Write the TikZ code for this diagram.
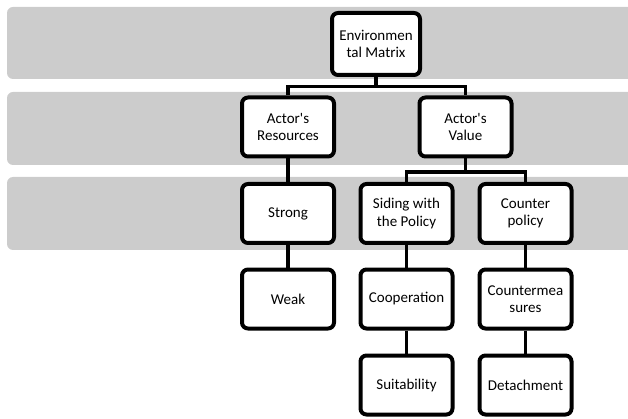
\documentclass[tikz,border=0pt]{standalone}
\usepackage{fontspec}
\setmainfont{Carlito}
\definecolor{bandgray}{RGB}{204,204,204}
\tikzset{
  band/.style={fill=bandgray, draw=none, rounded corners=6pt},
  box/.style={draw=black, fill=white, line width=4pt, rounded corners=6pt,
    minimum width=92pt, minimum height=59pt, align=center, inner sep=2pt,
    font=\fontsize{15}{17.5}\selectfont},
  conn/.style={draw=black, line width=3.4pt}
}
\begin{document}
\begin{tikzpicture}[x=1pt,y=-1pt]
\useasboundingbox (0,0) rectangle (628,419);
\begin{scope}
\clip (0,0) rectangle (628,419);
\fill[band] (7,7) rectangle (650,79);
\fill[band] (7,92) rectangle (650,165);
\fill[band] (7,177) rectangle (650,250);
\end{scope}
% nodes
\node[box, minimum width=88pt, minimum height=62pt] (root) at (376,44) {Environmen\\tal Matrix};
\node[box] (ar) at (288,127) {Actor\textquotesingle s\\Resources};
\node[box] (av) at (465.5,127) {Actor\textquotesingle s\\Value};
\node[box] (strong) at (288,213.5) {Strong};
\node[box] (siding) at (406.5,213.5) {Siding with\\the Policy};
\node[box] (counter) at (525.5,213.5) {Counter\\policy};
\node[box] (weak) at (288,299) {Weak};
\node[box] (coop) at (406.5,299) {Cooperation};
\node[box] (cm) at (525.5,299) {Countermea\\sures};
\node[box] (suit) at (406.5,385) {Suitability};
\node[box] (det) at (525.5,385) {Detachment};
% connectors
\coordinate (j1) at (376,86.5);
\coordinate (j2) at (465.5,172);
\draw[conn] (root.south) -- (j1);
\draw[conn] (ar.north) |- (j1) -| (av.north);
\draw[conn] (av.south) -- (j2);
\draw[conn] (siding.north) |- (j2) -| (counter.north);
\draw[conn] (ar.south) -- (strong.north);
\draw[conn] (strong.south) -- (weak.north);
\draw[conn] (siding.south) -- (coop.north);
\draw[conn] (coop.south) -- (suit.north);
\draw[conn] (counter.south) -- (cm.north);
\draw[conn] (cm.south) -- (det.north);
\end{tikzpicture}
\end{document}
